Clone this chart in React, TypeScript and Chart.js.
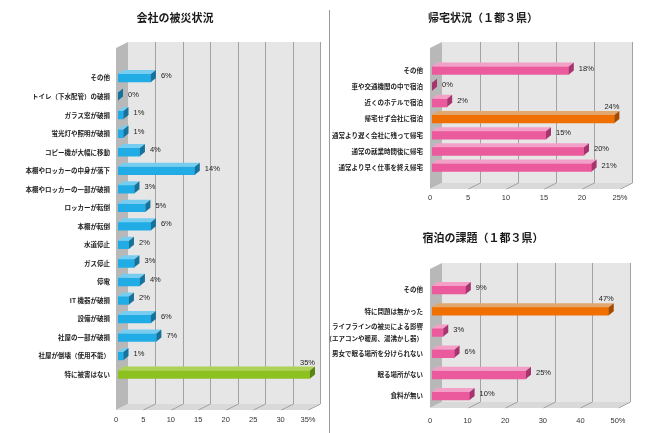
import React, { useEffect, useRef } from 'react';
import { Chart, registerables } from 'chart.js';

Chart.register(...registerables);

// ---------- data ----------
const companyTitle = '会社の被災状況';
const companyLabels = [
  'その他',
  'トイレ（下水配管）の破損',
  'ガラス窓が破損',
  '蛍光灯や照明が破損',
  'コピー機が大幅に移動',
  '本棚やロッカーの中身が落下',
  '本棚やロッカーの一部が破損',
  'ロッカーが転倒',
  '本棚が転倒',
  '水道停止',
  'ガス停止',
  '停電',
  'IT 機器が破損',
  '設備が破損',
  '社屋の一部が破損',
  '社屋が倒壊（使用不能）',
  '特に被害はない',
];
const companyValues = [6, 0, 1, 1, 4, 14, 3, 5, 6, 2, 3, 4, 2, 6, 7, 1, 35];
const companyTicks = [0, 5, 10, 15, 20, 25, 30, 35];
const companyHighlight = '特に被害はない';

const returnTitle = '帰宅状況（１都３県）';
const returnLabels = [
  'その他',
  '車や交通機関の中で宿泊',
  '近くのホテルで宿泊',
  '帰宅せず会社に宿泊',
  '通常より遅く会社に残って帰宅',
  '通常の就業時間後に帰宅',
  '通常より早く仕事を終え帰宅',
];
const returnValues = [18, 0, 2, 24, 15, 20, 21];
const returnTicks = [0, 5, 10, 15, 20, 25];
const returnHighlight = '帰宅せず会社に宿泊';

const stayTitle = '宿泊の課題（１都３県）';
const stayLabels: (string | string[])[] = [
  'その他',
  '特に問題は無かった',
  ['ライフラインの被災による影響', '（エアコンや暖房、湯沸かし器）'],
  '男女で眠る場所を分けられない',
  '眠る場所がない',
  '食料が無い',
];
const stayValues = [9, 47, 3, 6, 25, 10];
const stayTicks = [0, 10, 20, 30, 40, 50];
const stayHighlight = '特に問題は無かった';

// ---------- styles ----------
type Palette = { front: string; top: string; side: string };
const BLUE: Palette = { front: '#22ace5', top: '#76cdf0', side: '#17729b' };
const GREEN: Palette = { front: '#8cc11f', top: '#acd257', side: '#5a8414' };
const PINK: Palette = { front: '#ea5a9d', top: '#f3a0c8', side: '#a6356f' };
const ORANGE: Palette = { front: '#ef7000', top: '#e2a76e', side: '#a34b00' };

const W = 670;
const H = 433;
const LATIN = '"Liberation Sans", Arial, sans-serif';
const CJK = '"Noto Sans CJK JP", "Noto Sans", sans-serif';

type Spec = {
  title: string;
  titleX: number;
  titleY: number;
  labels: (string | string[])[];
  values: number[];
  ticks: number[];
  highlight: string;
  base: Palette;
  hi: Palette;
  left: number;
  right: number;
  catTop: number;
  catBottom: number;
  wallTop: number;
  floor: number;
  tickY: number;
  labelPad: number;
  labelLineHeight: number;
  barT: number;
};

const DX = 12;
const DY = -6;
const BDX = 5;
const BDY = -4;
const BAR_SHIFT = 2;

function poly(ctx: CanvasRenderingContext2D, pts: number[][], color: string) {
  ctx.beginPath();
  ctx.moveTo(pts[0][0], pts[0][1]);
  for (let i = 1; i < pts.length; i++) ctx.lineTo(pts[i][0], pts[i][1]);
  ctx.closePath();
  ctx.fillStyle = color;
  ctx.fill();
}

function labelText(l: string | string[]) {
  return Array.isArray(l) ? l.join('') : l;
}

function makePlugin(s: Spec) {
  return {
    id: 'threeD',
    beforeDatasetsDraw(chart: any) {
      const ctx: CanvasRenderingContext2D = chart.ctx;
      const xs = chart.scales.x;
      const L = xs.getPixelForValue(s.ticks[0]);
      const R = xs.getPixelForValue(s.ticks[s.ticks.length - 1]);
      const T = s.wallTop;
      const F = s.floor;
      ctx.save();
      ctx.fillStyle = '#e6e6e6';
      ctx.fillRect(L + DX, T + DY, R - L, F - T);
      poly(ctx, [[L, T], [L + DX, T + DY], [L + DX, F + DY], [L, F]], '#b8b8b8');
      poly(ctx, [[L, F], [L + DX, F + DY], [R + DX, F + DY], [R, F]], '#d9d9d9');
      ctx.strokeStyle = '#a2a2a2';
      ctx.lineWidth = 1;
      s.ticks.forEach((t, i) => {
        if (i === 0) return;
        const x = Math.round(xs.getPixelForValue(t) + DX) + 0.5;
        ctx.beginPath();
        ctx.moveTo(x, T + DY);
        ctx.lineTo(x, F + DY);
        ctx.lineTo(x - DX, F);
        ctx.stroke();
      });
      ctx.restore();
    },
    beforeDatasetDraw(chart: any) {
      chart.ctx.save();
      chart.ctx.translate(BAR_SHIFT, 0);
    },
    afterDatasetDraw(chart: any) {
      chart.ctx.restore();
    },
    afterDatasetsDraw(chart: any) {
      const ctx: CanvasRenderingContext2D = chart.ctx;
      const meta = chart.getDatasetMeta(0);
      const maxVal = Math.max(...s.values);
      ctx.save();
      ctx.translate(BAR_SHIFT, 0);
      meta.data.forEach((el: any, i: number) => {
        const { x, y, base, height } = el.getProps(['x', 'y', 'base', 'height'], true);
        const pal = labelText(s.labels[i]) === s.highlight ? s.hi : s.base;
        const t = y - height / 2;
        const b = y + height / 2;
        poly(ctx, [[base, t], [x, t], [x + BDX, t + BDY], [base + BDX, t + BDY]], pal.top);
        poly(ctx, [[x, t], [x + BDX, t + BDY], [x + BDX, b + BDY], [x, b]], pal.side);
        ctx.fillStyle = '#222';
        ctx.font = `7.5px ${LATIN}`;
        ctx.textBaseline = 'middle';
        const txt = `${s.values[i]}%`;
        if (s.values[i] === maxVal) {
          ctx.textAlign = 'right';
          ctx.fillText(txt, x + 5, y - 12);
        } else {
          ctx.textAlign = 'left';
          ctx.fillText(txt, x + 10, y - 2);
        }
      });
      ctx.restore();
    },
    afterDraw(chart: any) {
      const ctx: CanvasRenderingContext2D = chart.ctx;
      ctx.save();
      ctx.fillStyle = '#1a1a1a';
      ctx.font = `bold 11px ${CJK}`;
      ctx.textAlign = 'center';
      ctx.textBaseline = 'middle';
      ctx.fillText(s.title, s.titleX, s.titleY);
      ctx.restore();
    },
  };
}

function makeChart(canvas: HTMLCanvasElement, s: Spec) {
  const max = s.ticks[s.ticks.length - 1];
  return new Chart(canvas, {
    type: 'bar',
    data: {
      labels: s.labels as any,
      datasets: [
        {
          data: s.values,
          backgroundColor: s.labels.map((l) => (labelText(l) === s.highlight ? s.hi.front : s.base.front)),
          barThickness: s.barT,
          borderWidth: 0,
        },
      ],
    },
    options: {
      indexAxis: 'y',
      responsive: false,
      animation: false,
      events: [],
      layout: { padding: { top: s.catTop, right: W - s.right, left: 0, bottom: 0 } },
      plugins: { legend: { display: false }, tooltip: { enabled: false }, title: { display: false } },
      scales: {
        x: {
          type: 'linear',
          min: s.ticks[0],
          max,
          grid: { display: false, drawTicks: false },
          border: { display: false },
          ticks: {
            stepSize: s.ticks[1] - s.ticks[0],
            padding: s.tickY - 4 - s.catBottom,
            color: '#333',
            autoSkip: false,
            maxRotation: 0,
            font: { family: LATIN, size: 7.5 },
            callback: (v: any) => (v === max ? `${v}%` : `${v}`),
          },
          afterFit: (sc: any) => {
            sc.height = H - s.catBottom;
          },
        },
        y: {
          type: 'category',
          grid: { display: false, drawTicks: false },
          border: { display: false },
          ticks: {
            padding: s.labelPad,
            color: '#222',
            autoSkip: false,
            font: { family: CJK, size: 6.5, weight: 'bold', lineHeight: s.labelLineHeight },
          },
          afterFit: (sc: any) => {
            sc.width = s.left;
          },
        },
      },
    } as any,
    plugins: [makePlugin(s)],
  });
}

const specs: Spec[] = [
  {
    title: companyTitle, titleX: 175, titleY: 18,
    labels: companyLabels, values: companyValues, ticks: companyTicks, highlight: companyHighlight,
    base: BLUE, hi: GREEN,
    left: 116, right: 308, catTop: 68.7, catBottom: 383.8, wallTop: 48, floor: 410, tickY: 419,
    labelPad: 6, labelLineHeight: 1.4, barT: 8,
  },
  {
    title: returnTitle, titleX: 483, titleY: 18,
    labels: returnLabels, values: returnValues, ticks: returnTicks, highlight: returnHighlight,
    base: PINK, hi: ORANGE,
    left: 430, right: 620, catTop: 62.4, catBottom: 175.6, wallTop: 48, floor: 189, tickY: 197,
    labelPad: 7, labelLineHeight: 1.4, barT: 8,
  },
  {
    title: stayTitle, titleX: 483, titleY: 238,
    labels: stayLabels, values: stayValues, ticks: stayTicks, highlight: stayHighlight,
    base: PINK, hi: ORANGE,
    left: 430, right: 618, catTop: 279.4, catBottom: 406.6, wallTop: 269, floor: 408, tickY: 420,
    labelPad: 7, labelLineHeight: 1.8, barT: 8,
  },
];

export default function App() {
  const r0 = useRef<HTMLCanvasElement>(null);
  const r1 = useRef<HTMLCanvasElement>(null);
  const r2 = useRef<HTMLCanvasElement>(null);

  useEffect(() => {
    const refs = [r0, r1, r2];
    const charts = refs.map((r, i) => makeChart(r.current as HTMLCanvasElement, specs[i]));
    return () => charts.forEach((c) => c.destroy());
  }, []);

  const cs: React.CSSProperties = { position: 'absolute', left: 0, top: 0, width: W, height: H };
  return (
    <div style={{ position: 'absolute', left: 0, top: 0, width: W, height: H, background: '#fff', overflow: 'hidden' }}>
      <div style={{ position: 'absolute', left: 329, top: 10, width: 1, height: H - 10, background: '#9a9a9a' }} />
      <canvas ref={r0} width={W} height={H} style={cs} />
      <canvas ref={r1} width={W} height={H} style={cs} />
      <canvas ref={r2} width={W} height={H} style={cs} />
    </div>
  );
}
